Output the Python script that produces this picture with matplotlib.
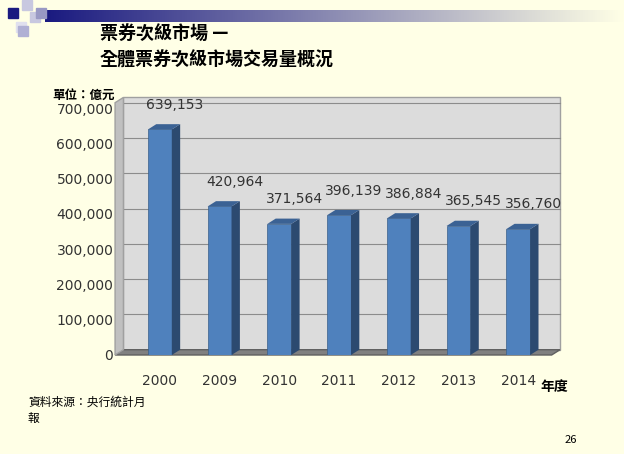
import numpy as np
import matplotlib.pyplot as plt
from matplotlib.patches import Polygon, Rectangle

plt.rcParams['font.family'] = ['Noto Sans CJK TC', 'DejaVu Sans']

years = ['2000', '2009', '2010', '2011', '2012', '2013', '2014']
volumes = [639153, 420964, 371564, 396139, 386884, 365545, 356760]
yticks = [0, 100000, 200000, 300000, 400000, 500000, 600000, 700000]

W, H = 624, 454
fig = plt.figure(figsize=(6.24, 4.54), dpi=100)
fig.patch.set_facecolor('#ffffe6')

# decorative header
deco = fig.add_axes([0, 0, 1, 1])
deco.set_xlim(0, W)
deco.set_ylim(H, 0)
deco.axis('off')
grad = np.linspace(0, 1, 256)[None, :]
from matplotlib.colors import LinearSegmentedColormap
cm = LinearSegmentedColormap.from_list('g', ['#1a1a80', '#ffffe6'])
deco.imshow(grad, extent=[45, W, 22, 10], cmap=cm, aspect='auto')
for (x, y, c) in [(8, 8, '#1a1a80'), (22, 0, '#c8c8e0'), (30, 12, '#c8c8e0'),
                  (36, 8, '#9999c4'), (16, 22, '#e0e0ee'), (18, 26, '#b0b0d4')]:
    deco.add_patch(Rectangle((x, y), 10, 10, color=c))
deco.text(100, 33, '票券次級市場 —', fontsize=13, fontweight='bold', style='italic', va='center')
deco.text(100, 60, '全體票券次級市場交易量概況', fontsize=13, fontweight='bold', style='italic', va='center')
deco.text(52, 95, '單位：億元', fontsize=9, fontweight='bold', va='center')
deco.text(540, 387, '年度', fontsize=10, fontweight='bold', va='center')
deco.text(28, 410, '資料來源：央行統計月\n報', fontsize=8.5, va='center', linespacing=1.3)
deco.text(565, 440, '26', fontsize=8, va='center')

# chart area
ax = fig.add_axes([130 / W, 1 - 355 / H, 430 / W, 247 / H])
ax.set_facecolor('none')
ax.set_xlim(-0.5, 6.7)
ax.set_ylim(0, 700000)
dx, dy = 0.14, 15000
bw = 0.4

# back wall and floor
ax.add_patch(Polygon([(-0.75 + dx, dy), (6.7, dy), (6.7, 730000), (-0.75 + dx, 730000)],
                     closed=True, facecolor='#dcdcdc', edgecolor='#a0a0a0', clip_on=False, zorder=0))
for t in yticks[1:]:
    ax.plot([-0.75 + dx, 6.7], [t + dy, t + dy], color='#8c8c8c', lw=0.8, clip_on=False, zorder=1)
ax.add_patch(Polygon([(-0.75, 0), (6.7 - dx, 0), (6.7, dy), (-0.75 + dx, dy)],
                     closed=True, facecolor='#808080', edgecolor='#606060', clip_on=False, zorder=1))
ax.add_patch(Polygon([(-0.75, 0), (-0.75 + dx, dy), (-0.75 + dx, 730000), (-0.75, 715000)],
                     closed=True, facecolor='#c0c0c0', edgecolor='#a0a0a0', clip_on=False, zorder=1))

for i, v in enumerate(volumes):
    x0 = i - bw / 2
    ax.add_patch(Rectangle((x0, 0), bw, v, facecolor='#4f81bd', edgecolor='#3a5f8a', lw=0.5, zorder=3))
    ax.add_patch(Polygon([(x0 + bw, 0), (x0 + bw + dx, dy), (x0 + bw + dx, v + dy), (x0 + bw, v)],
                         closed=True, facecolor='#2c4a70', zorder=3))
    ax.add_patch(Polygon([(x0, v), (x0 + dx, v + dy), (x0 + bw + dx, v + dy), (x0 + bw, v)],
                         closed=True, facecolor='#3b6294', zorder=3))
    ax.text(i + 0.25, v + 70000, f'{v:,}', ha='center', va='center', fontsize=10, color='#333333',
            family='DejaVu Sans')

ax.set_yticks(yticks)
ax.set_yticklabels([f'{t:,}' for t in yticks], family='DejaVu Sans', fontsize=10, color='#333333')
ax.set_xticks(range(len(years)))
ax.set_xticklabels(years, family='DejaVu Sans', fontsize=10, color='#333333')
ax.tick_params(length=0, pad=14, axis='x')
ax.tick_params(length=0, pad=12, axis='y')
for s in ax.spines.values():
    s.set_visible(False)

fig.savefig('out.png', dpi=100, facecolor=fig.get_facecolor())
